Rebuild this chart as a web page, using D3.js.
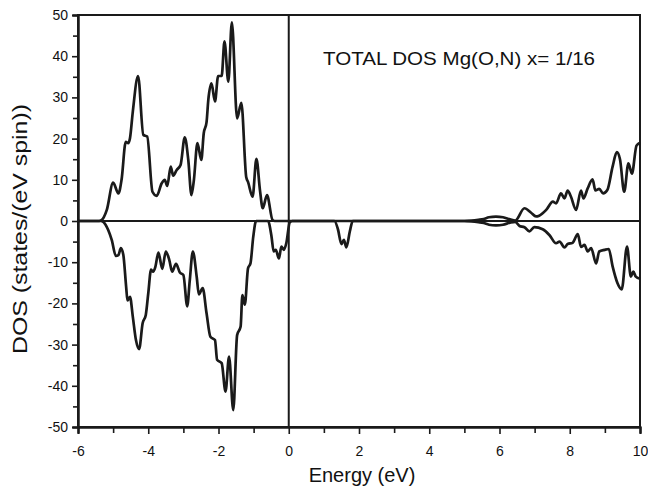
<!DOCTYPE html>
<html><head><meta charset="utf-8">
<script src="https://cdn.jsdelivr.net/npm/d3@7"></script>
<style>body{margin:0;background:#fff}svg{display:block}text{font-family:"Liberation Sans",Arial,sans-serif;fill:#111}</style>
</head><body><svg id="c" width="648" height="496"></svg>
<script>
// Spin-up DOS (positive) : energy (eV), DOS
const upEnergy = [-6,-5.4,-5.33,-5.18,-5.0,-4.85,-4.76,-4.64,-4.57,-4.52,-4.44,-4.29,-4.14,-4.03,-3.88,-3.76,-3.62,-3.53,-3.46,-3.36,-3.29,-3.19,-3.08,-2.96,-2.86,-2.77,-2.70,-2.60,-2.49,-2.42,-2.34,-2.29,-2.20,-2.10,-2.01,-1.91,-1.83,-1.72,-1.62,-1.47,-1.35,-1.21,-1.16,-1.03,-0.92,-0.82,-0.74,-0.62,-0.46,-0.4,5.0,5.2,5.4,5.55,5.7,5.9,6.1,6.3,6.45,6.71,6.9,7.04,7.13,7.33,7.52,7.61,7.75,7.85,7.94,8.03,8.18,8.32,8.39,8.51,8.65,8.73,8.84,8.95,9.07,9.22,9.34,9.43,9.55,9.67,9.77,9.9,10];
const upDos    = [0,0,0.2,2.7,9.3,6.7,10,19.2,18.9,20.1,26.5,35.2,20.9,20.5,7.1,6.1,9.1,10,8.5,13.2,11,12.4,13.6,20.3,14.8,6.3,10,18.9,14.8,21.3,24,29.4,33.4,29.0,35.2,35.2,43.6,33.8,48.2,24.9,28.7,10.6,9.5,5.9,15.1,7.5,3.1,6.3,0.2,0,0,0.1,0.3,0.5,0.9,1.05,0.9,0.4,0.1,3.1,2.0,1.1,1.3,2.7,4.7,4.3,6.7,5.5,7.4,6.0,2.7,7.4,5.5,7.9,10.1,7.4,7.8,6.7,7.5,13.2,16.7,15,7.1,14,11.5,18.3,19];
// Spin-down DOS (negative)
const downEnergy = [-6,-5.35,-5.28,-5.14,-5.04,-4.92,-4.85,-4.78,-4.71,-4.63,-4.59,-4.52,-4.44,-4.35,-4.26,-4.16,-4.07,-4.0,-3.92,-3.86,-3.80,-3.71,-3.60,-3.50,-3.40,-3.32,-3.21,-3.10,-3.0,-2.89,-2.82,-2.73,-2.62,-2.56,-2.45,-2.34,-2.23,-2.10,-2.04,-1.91,-1.80,-1.70,-1.58,-1.47,-1.37,-1.32,-1.25,-1.16,-1.09,-1.01,-0.93,-0.59,-0.49,-0.43,-0.37,-0.28,-0.21,-0.14,-0.07,0.03,0.1,1.30,1.40,1.50,1.57,1.64,1.74,1.82,5.0,5.2,5.4,5.55,5.7,5.9,6.1,6.3,6.45,6.57,6.71,6.85,6.99,7.23,7.42,7.61,7.71,7.85,7.94,8.08,8.23,8.32,8.42,8.51,8.61,8.75,8.84,8.99,9.11,9.22,9.36,9.48,9.63,9.74,9.81,9.88,10];
const downDos    = [0,0,-0.2,-2.2,-4.6,-8.5,-8.3,-6.6,-8.2,-15.9,-19.3,-18.4,-23.2,-28.9,-31.1,-24.8,-22.8,-17.6,-11.8,-12.3,-11.2,-7.7,-11.6,-7.4,-9.5,-12.3,-10.4,-12.5,-13.1,-20.7,-14.6,-7.4,-13.6,-17.8,-16.3,-22.4,-28.1,-28.9,-33.7,-34.5,-41.4,-32.9,-45.9,-27.7,-25.6,-18.0,-20.3,-11.5,-10.3,-3.8,0,0,-3.8,-7.4,-7,-9.1,-6.2,-7,-5.4,-0.3,0,0,-2,-5.6,-4.6,-6.4,-2.5,0,0,-0.1,-0.3,-0.5,-0.9,-1.05,-0.9,-0.4,-0.2,-1.2,-1.5,-2.5,-1.5,-2,-3.4,-5.4,-5,-6.4,-5.6,-5.3,-3.2,-6.3,-5.8,-7.4,-6.6,-10.3,-7.4,-7.0,-6.8,-11,-15.1,-16.6,-6.2,-13.5,-12.3,-13.5,-14];
const xTicks = [-6,-4,-2,0,2,4,6,8,10];
const xMinor = [-5,-3,-1,1,3,5,7,9];
const yTicks = [-50,-40,-30,-20,-10,0,10,20,30,40,50];
const yMinor = [-45,-35,-25,-15,-5,5,15,25,35,45];
const xLabel = "Energy (eV)";
const yLabel = "DOS (states/(eV spin))";
const title = "TOTAL DOS Mg(O,N) x= 1/16";

const svg = d3.select("#c");
const L = 78, R = 640, T = 15, B = 427;
const x = d3.scaleLinear().domain([-6,10]).range([L,R]);
const y = d3.scaleLinear().domain([-50,50]).range([B,T]);
const ink = "#1a1a1a";
const fmt = d => String(d); // plain hyphen-minus as in the reference

// frame
svg.append("rect").attr("x",L).attr("y",T).attr("width",R-L).attr("height",B-T)
  .attr("fill","none").attr("stroke",ink).attr("stroke-width",2);
// zero lines
svg.append("line").attr("x1",L).attr("x2",R).attr("y1",y(0)).attr("y2",y(0)).attr("stroke",ink).attr("stroke-width",2);
svg.append("line").attr("x1",x(0)).attr("x2",x(0)).attr("y1",T).attr("y2",B).attr("stroke",ink).attr("stroke-width",2);

// axes
const xAx = svg.append("g").attr("transform",`translate(0,${B})`)
  .call(d3.axisBottom(x).tickValues(xTicks).tickSize(7).tickPadding(12).tickFormat(fmt));
const xAxm = svg.append("g").attr("transform",`translate(0,${B})`)
  .call(d3.axisBottom(x).tickValues(xMinor).tickSize(6).tickFormat(""));
const yAx = svg.append("g").attr("transform",`translate(${L},0)`)
  .call(d3.axisLeft(y).tickValues(yTicks).tickSize(6).tickPadding(4).tickFormat(fmt));
const yAxm = svg.append("g").attr("transform",`translate(${L},0)`)
  .call(d3.axisLeft(y).tickValues(yMinor).tickSize(5).tickFormat(""));
[xAx,xAxm,yAx,yAxm].forEach(g=>{
  g.select(".domain").attr("stroke",ink).attr("stroke-width",2);
  g.selectAll(".tick line").attr("stroke",ink).attr("stroke-width",1.6);
  g.selectAll("text").attr("font-size",14).attr("fill","#111").attr("font-family",'"Liberation Sans",Arial,sans-serif');
});

// curves
const line = d3.line().x(d=>x(d[0])).y(d=>y(d[1])).curve(d3.curveMonotoneX);
svg.append("path").datum(d3.zip(upEnergy,upDos)).attr("d",line)
  .attr("fill","none").attr("stroke",ink).attr("stroke-width",2.7).attr("stroke-linejoin","round");
svg.append("path").datum(d3.zip(downEnergy,downDos)).attr("d",line)
  .attr("fill","none").attr("stroke",ink).attr("stroke-width",2.7).attr("stroke-linejoin","round");

// labels
svg.append("text").attr("x",(L+R)/2+3).attr("y",482).attr("text-anchor","middle")
  .attr("font-size",20).text(xLabel);
svg.append("text").attr("transform",`translate(27,${(T+B)/2+8}) rotate(-90)`).attr("text-anchor","middle")
  .attr("font-size",20).attr("textLength",250).attr("lengthAdjust","spacingAndGlyphs").text(yLabel);
svg.append("text").attr("x",323).attr("y",65).attr("font-size",19)
  .attr("textLength",272).attr("lengthAdjust","spacingAndGlyphs").text(title);
</script></body></html>
